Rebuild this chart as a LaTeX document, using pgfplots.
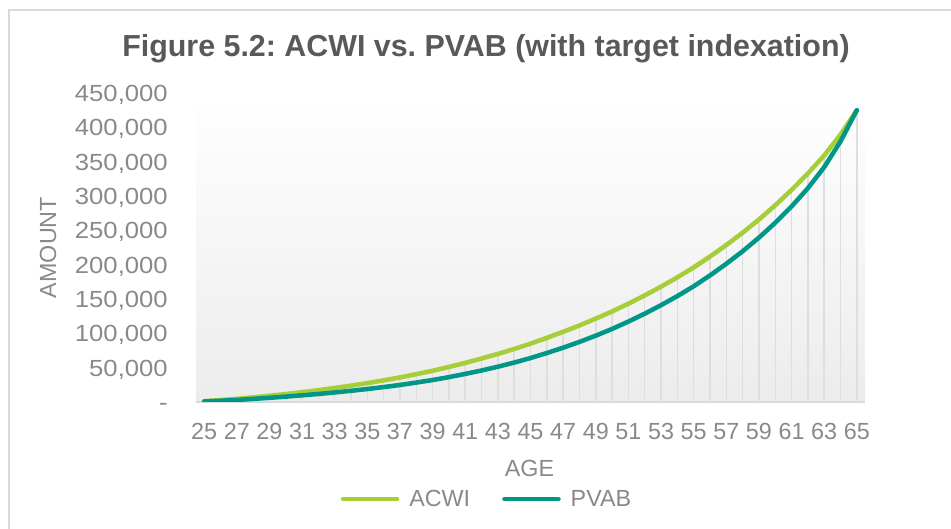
\documentclass[border=0pt]{standalone}
\usepackage{pgfplots}
\usepackage{pgfplotstable}
\usepackage{fontspec}
\setmainfont{Liberation Sans}
\newfontfamily\tickfont[FakeStretch=1.1]{Liberation Sans}
\pgfplotsset{compat=1.18}
\frenchspacing
\definecolor{acwi}{RGB}{166,206,57}
\definecolor{pvab}{RGB}{0,150,136}
\definecolor{tickgray}{RGB}{137,137,137}
\definecolor{titlegray}{RGB}{89,89,89}
\definecolor{bordergray}{RGB}{217,217,217}
\definecolor{dropgray}{RGB}{222,222,222}
\definecolor{plotgray}{RGB}{236,236,236}
\pgfplotstableread{
age value
25 1200
26 2800
27 4600
28 6800
29 9100
30 11600
31 14300
32 17200
33 20400
34 23800
35 27500
36 31500
37 35800
38 40500
39 45500
40 51000
41 57000
42 63300
43 70000
44 77200
45 85000
46 93400
47 102200
48 111500
49 121400
50 131900
51 143200
52 155200
53 168000
54 181500
55 196000
56 211800
57 228600
58 246500
59 265800
60 286500
61 308800
62 332800
63 359000
64 389500
65 425000
}\acwidata
\pgfplotstableread{
age value
25 700
26 1800
27 3000
28 4500
29 6100
30 7800
31 9700
32 11700
33 13900
34 16300
35 18900
36 21700
37 24800
38 28300
39 32000
40 36200
41 40900
42 45900
43 51400
44 57400
45 64000
46 71300
47 79100
48 87500
49 96600
50 106400
51 117100
52 128600
53 141000
54 154200
55 168500
56 184300
57 201300
58 219500
59 239300
60 261000
61 284800
62 311300
63 342000
64 379500
65 425000
}\pvabdata
\begin{document}
\begin{tikzpicture}
\useasboundingbox (0,0) rectangle (713.25pt,396.75pt);
\draw[bordergray, line width=0.9pt] (6.75pt,0) -- (6.75pt,389.25pt) -- (713.25pt,389.25pt);
\begin{axis}[
  at={(147pt,95.25pt)}, anchor=south west,
  scale only axis, width=501.75pt, height=231.75pt,
  xmin=24.5, xmax=65.5, ymin=0, ymax=450000,
  scaled y ticks=false,
  axis lines*=left,
  x axis line style={draw=bordergray, line width=1.1pt},
  y axis line style={draw=none},
  major tick length=0pt,
  axis background/.style={top color=white, bottom color=plotgray},
  xtick={25,27,...,65},
  xticklabels={25,27,29,31,33,35,37,39,41,43,45,47,49,51,53,55,57,59,61,63,65},
  ytick={0,50000,...,450000},
  yticklabels={{-},{50,000},{100,000},{150,000},{200,000},{250,000},{300,000},{350,000},{400,000},{450,000}},
  ticklabel style={text=tickgray, inner sep=0pt},
  xticklabel style={font=\fontsize{17.5}{21}\selectfont, anchor=base, yshift=-28.5pt},
  yticklabel style={font=\tickfont\fontsize{17.5}{21}\selectfont, anchor=base east, xshift=-21pt, yshift=-6.3pt},
  legend columns=2,
  legend style={at={(0.4335,-0.3139)}, anchor=center, draw=none, fill=none,
    font=\fontsize{17.5}{21}\selectfont, text=tickgray, inner sep=0pt,
    nodes={inner sep=0pt},
    /tikz/every odd column/.append style={column sep=7.5pt},
    /tikz/every even column/.append style={column sep=24pt}},
  legend image code/.code={\draw[#1, line width=3.4pt, line cap=round] (0pt,0pt) -- (40.5pt,0pt);},
]
\addplot[ycomb, draw=dropgray, line width=1.1pt, forget plot] table[x=age,y=value] {\acwidata};
\addplot[acwi, line width=3.4pt, line cap=round, line join=round] table[x=age,y=value] {\acwidata};
\addlegendentry{ACWI}
\addplot[pvab, line width=3.4pt, line cap=round, line join=round] table[x=age,y=value] {\pvabdata};
\addlegendentry{PVAB}
\end{axis}
\node[anchor=base, font=\fontsize{22.8}{27}\selectfont\bfseries, text=titlegray] at (364.5pt,354.2pt) {Figure 5.2: ACWI vs. PVAB (with target indexation)};
\node[anchor=center, rotate=90, inner sep=0pt, font=\fontsize{17.5}{21}\selectfont, text=tickgray] at (36pt,211.1pt) {AMOUNT};
\node[anchor=base, inner sep=0pt, font=\fontsize{17.5}{21}\selectfont, text=tickgray] at (397.1pt,39pt) {AGE};
\end{tikzpicture}
\end{document}
